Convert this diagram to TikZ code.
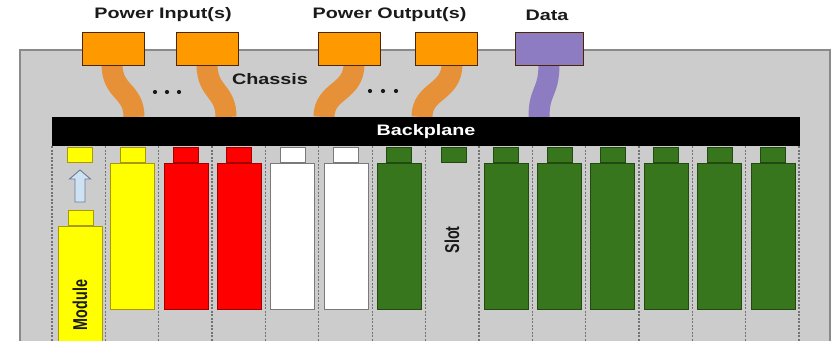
\documentclass[tikz,border=0pt]{standalone}
\usepackage{fontspec}
\setmainfont{Liberation Sans}
\newfontfamily\wfont[FakeStretch=1.3]{Liberation Sans}
\usepackage{graphicx}
\definecolor{chassisgray}{HTML}{CCCCCC}
\definecolor{chassisedge}{HTML}{8A8A8A}
\definecolor{pinorange}{HTML}{FF9900}
\definecolor{cableorange}{HTML}{E69138}
\definecolor{datapurple}{HTML}{8E7CC3}
\definecolor{modgreen}{HTML}{38761D}
\definecolor{modgreenedge}{HTML}{224A10}
\definecolor{modyellow}{HTML}{FFFF00}
\definecolor{modyellowedge}{HTML}{A89A00}
\definecolor{modred}{HTML}{FF0000}
\definecolor{modrededge}{HTML}{A00000}
\definecolor{modwhiteedge}{HTML}{7A7A7A}
\definecolor{arrowblue}{HTML}{CFE2F3}
\definecolor{arrowedge}{HTML}{6A7A90}
\definecolor{labeltext}{HTML}{1A1A1A}
\begin{document}
\begin{tikzpicture}[x=1pt,y=-1pt,
  lbl/.style={font=\wfont\fontsize{15.2}{18}\selectfont\bfseries, text=labeltext, inner sep=0pt},
  rlbl/.style={font=\fontsize{14.3}{17}\selectfont\bfseries, text=labeltext, inner sep=0pt, rotate=90},
  pinbox/.style={draw=black!70!orange, line width=0.8pt, minimum width=62pt, minimum height=33pt, inner sep=0pt},
  cable/.style={line width=21pt, line cap=butt},
  conn/.style={draw, line width=0.7pt, minimum width=25pt, minimum height=15pt, inner sep=0pt},
  card/.style={draw, line width=0.7pt, minimum width=44pt, minimum height=146pt, inner sep=0pt},
  slotline/.style={draw=black!55, line width=1.3pt, dash pattern=on 2pt off 1.5pt},
  dots/.style={fill=labeltext, circle, inner sep=0pt, minimum size=4.2pt},
  uparrow/.style={draw=arrowedge, fill=arrowblue, line width=0.9pt, line join=miter}
]
\useasboundingbox (0,0) rectangle (834,340);
\clip (0,0) rectangle (834,340);

% chassis
\path[fill=chassisgray, draw=chassisedge, line width=1.2pt] (20,50) rectangle (830,350);
\node[lbl] (chassis) at (270,79.5) {Chassis};

% top labels
\node[lbl] (lin) at (163,15) {Power Input(s)};
\node[lbl] (lout) at (389.5,15) {Power Output(s)};
\node[lbl] (ldata) at (547,15) {Data};

% backplane anchor points for cables
\coordinate (c1) at (134,117);
\coordinate (c2) at (226,117);
\coordinate (c3) at (324,117);
\coordinate (c4) at (422,117);
\coordinate (c5) at (539,117);

% pin box positions
\path (113,48.5) coordinate (p1pos) (207,48.5) coordinate (p2pos) (349,48.5) coordinate (p3pos)
      (446.5,48.5) coordinate (p4pos) (549,48.5) coordinate (p5pos);

% cables
\draw[cable, cableorange] (112,64) .. controls (112,93) and (134,90) .. (c1);
\draw[cable, cableorange] (207,64) .. controls (207,93) and (226,90) .. (c2);
\draw[cable, cableorange] (354,64) .. controls (354,93) and (324,90) .. (c3);
\draw[cable, cableorange] (452,64) .. controls (452,93) and (422,90) .. (c4);
\draw[cable, datapurple] (549,64) .. controls (549,93) and (539,90) .. (c5);

% pin boxes
\node[pinbox, fill=pinorange] (p1) at (p1pos) {};
\node[pinbox, fill=pinorange] (p2) at (p2pos) {};
\node[pinbox, fill=pinorange] (p3) at (p3pos) {};
\node[pinbox, fill=pinorange] (p4) at (p4pos) {};
\node[pinbox, fill=datapurple, minimum width=68pt] (p5) at (p5pos) {};

% backplane
\node[fill=black, minimum width=748pt, minimum height=29pt, inner sep=0pt, text=white,
      font=\wfont\fontsize{15.2}{18}\selectfont\bfseries] (bp) at (426,131.5) {Backplane};

% dots
\foreach \x in {155,167,179} \node[dots] at (\x,92) {};
\foreach \x in {370,383,396} \node[dots] at (\x,91) {};

% slot separators
\foreach \k in {0,...,14} {
  \draw[slotline] ({52+\k*53.36},146) -- ({52+\k*53.36},342);
}

% slot 1: module being inserted
\node[conn, fill=modyellow, draw=modyellowedge] (s1c) at (80,154.5) {};
\node[conn, fill=modyellow, draw=modyellowedge] (m1t) at (80.5,218) {};
\node[draw=modyellowedge, fill=modyellow, line width=0.7pt, minimum width=44pt, minimum height=130pt, inner sep=0pt, anchor=north] (m1) at (80,226) {};
\path[uparrow] (80,170) -- (90.5,179) -- (85,179) -- (85,202) -- (75,202) -- (75,179) -- (69.5,179) -- cycle;
\node[rlbl] (mlabel) at (80,305) {\scalebox{1}[1.4]{Module}};

% cards
\foreach \i/\fc/\dc in {2/modyellow/modyellowedge, 3/modred/modrededge, 4/modred/modrededge,
                        5/white/modwhiteedge, 6/white/modwhiteedge, 7/modgreen/modgreenedge,
                        9/modgreen/modgreenedge, 10/modgreen/modgreenedge, 11/modgreen/modgreenedge,
                        12/modgreen/modgreenedge, 13/modgreen/modgreenedge, 14/modgreen/modgreenedge} {
  \node[conn, fill=\fc, draw=\dc] (s\i c) at ({52+(\i-0.5)*53.36+0.5},154.5) {};
  \node[card, fill=\fc, draw=\dc] (s\i b) at ({52+(\i-0.5)*53.36+0.5},236) {};
}
% empty slot 8
\node[conn, fill=modgreen, draw=modgreenedge] (s8c) at (453.5,154.5) {};
\node[rlbl] (slabel) at (452,240) {\scalebox{1}[1.4]{Slot}};
\end{tikzpicture}
\end{document}
